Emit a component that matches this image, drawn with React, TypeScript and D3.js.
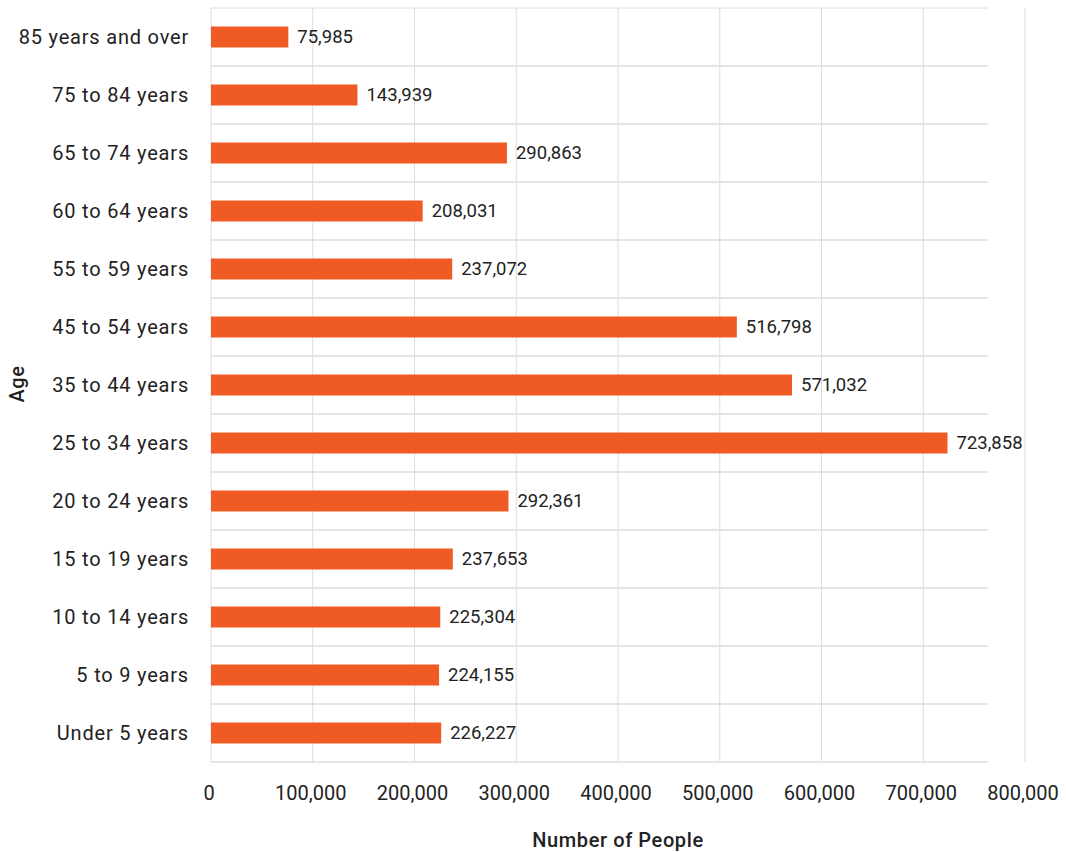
import React from "react";
import * as d3 from "d3";

const categories = [
  "85 years and over",
  "75 to 84 years",
  "65 to 74 years",
  "60 to 64 years",
  "55 to 59 years",
  "45 to 54 years",
  "35 to 44 years",
  "25 to 34 years",
  "20 to 24 years",
  "15 to 19 years",
  "10 to 14 years",
  "5 to 9 years",
  "Under 5 years",
];
const values = [75985, 143939, 290863, 208031, 237072, 516798, 571032, 723858, 292361, 237653, 225304, 224155, 226227];
const xTicks = [0, 100000, 200000, 300000, 400000, 500000, 600000, 700000, 800000];

export default function App() {
  const W = 1066, H = 852;
  const left = 211, right = 1025, top = 8, bottom = 762;
  const x = d3.scaleLinear().domain([0, 800000]).range([left, right]);
  const y = d3.scaleBand<string>().domain(categories).range([top, bottom]).paddingInner(0).paddingOuter(0);
  const bw = y.bandwidth();
  const barH = 21;
  const fmt = d3.format(",");
  const font = "Roboto, 'Noto Sans', sans-serif";
  const grid = "#dcdcdc";
  return (
    <svg width={W} height={H} style={{ position: "absolute", left: 0, top: 0, background: "#fff" }} fontFamily={font}>
      {xTicks.map((t) => (
        <line key={"v" + t} x1={x(t)} x2={x(t)} y1={top} y2={bottom} stroke={grid} strokeWidth={1} />
      ))}
      {categories.map((c, i) => (
        <line key={"h" + i} x1={left} x2={988} y1={(y(c) as number) + bw} y2={(y(c) as number) + bw} stroke={grid} strokeWidth={1.5} />
      ))}
      <line x1={left} x2={988} y1={top} y2={top} stroke={grid} strokeWidth={1} />
      {categories.map((c, i) => {
        const cy = (y(c) as number) + bw / 2;
        return (
          <g key={c}>
            <rect x={x(0)} y={cy - barH / 2} width={x(values[i]) - x(0)} height={barH} fill="#F05A24" />
            <text x={x(values[i]) + 9} y={cy} dy="0.35em" fontSize={18.5} fill="#222">{fmt(values[i])}</text>
            <text x={189} y={cy} dy="0.35em" textAnchor="end" fontSize={20} letterSpacing={0.8} fill="#222">{c}</text>
          </g>
        );
      })}
      {xTicks.map((t) => (
        <text key={"t" + t} x={x(t) - 2} y={793} dy="0.35em" textAnchor="middle" fontSize={20} fill="#222">{fmt(t)}</text>
      ))}
      <text x={618} y={840} dy="0.35em" textAnchor="middle" fontSize={20} fontWeight={500} letterSpacing={0.6} fill="#222">Number of People</text>
      <text transform={`translate(17,${(top + bottom) / 2 - 1}) rotate(-90)`} dy="0.35em" textAnchor="middle" fontSize={20} fontWeight={500} letterSpacing={0.6} fill="#222">Age</text>
    </svg>
  );
}
